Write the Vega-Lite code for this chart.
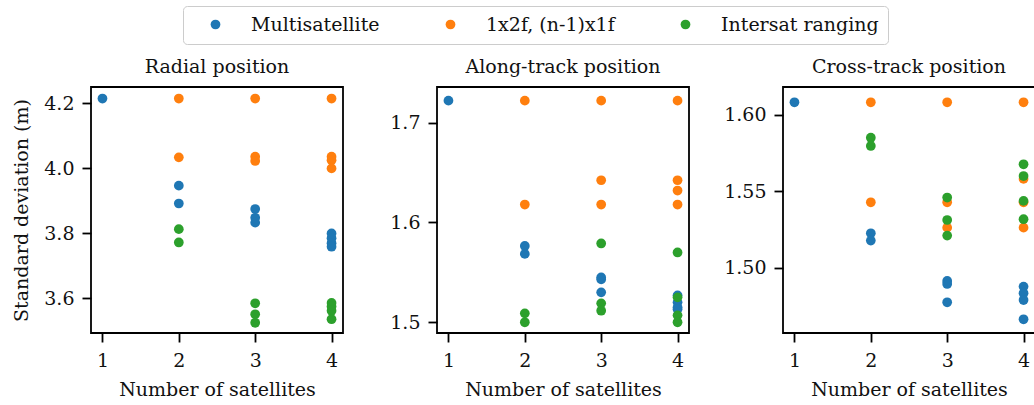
{
  "$schema": "https://vega.github.io/schema/vega-lite/v6.json",
  "autosize": {"type": "none"},
  "padding": {"left": 91, "top": 87, "right": 943, "bottom": 318},
  "background": "white",
  "datasets": {
    "pts": [
      {"panel": "R", "n": 1, "sd": 4.215, "method": "Multisatellite"},
      {"panel": "R", "n": 2, "sd": 3.947, "method": "Multisatellite"},
      {"panel": "R", "n": 2, "sd": 3.892, "method": "Multisatellite"},
      {"panel": "R", "n": 3, "sd": 3.875, "method": "Multisatellite"},
      {"panel": "R", "n": 3, "sd": 3.848, "method": "Multisatellite"},
      {"panel": "R", "n": 3, "sd": 3.833, "method": "Multisatellite"},
      {"panel": "R", "n": 4, "sd": 3.800, "method": "Multisatellite"},
      {"panel": "R", "n": 4, "sd": 3.785, "method": "Multisatellite"},
      {"panel": "R", "n": 4, "sd": 3.770, "method": "Multisatellite"},
      {"panel": "R", "n": 4, "sd": 3.759, "method": "Multisatellite"},
      {"panel": "A", "n": 1, "sd": 1.722, "method": "Multisatellite"},
      {"panel": "A", "n": 2, "sd": 1.5765, "method": "Multisatellite"},
      {"panel": "A", "n": 2, "sd": 1.5685, "method": "Multisatellite"},
      {"panel": "A", "n": 3, "sd": 1.545, "method": "Multisatellite"},
      {"panel": "A", "n": 3, "sd": 1.543, "method": "Multisatellite"},
      {"panel": "A", "n": 3, "sd": 1.530, "method": "Multisatellite"},
      {"panel": "A", "n": 4, "sd": 1.527, "method": "Multisatellite"},
      {"panel": "A", "n": 4, "sd": 1.520, "method": "Multisatellite"},
      {"panel": "A", "n": 4, "sd": 1.515, "method": "Multisatellite"},
      {"panel": "A", "n": 4, "sd": 1.513, "method": "Multisatellite"},
      {"panel": "C", "n": 1, "sd": 1.6083, "method": "Multisatellite"},
      {"panel": "C", "n": 2, "sd": 1.5225, "method": "Multisatellite"},
      {"panel": "C", "n": 2, "sd": 1.5177, "method": "Multisatellite"},
      {"panel": "C", "n": 3, "sd": 1.4913, "method": "Multisatellite"},
      {"panel": "C", "n": 3, "sd": 1.4893, "method": "Multisatellite"},
      {"panel": "C", "n": 3, "sd": 1.4773, "method": "Multisatellite"},
      {"panel": "C", "n": 4, "sd": 1.4876, "method": "Multisatellite"},
      {"panel": "C", "n": 4, "sd": 1.4832, "method": "Multisatellite"},
      {"panel": "C", "n": 4, "sd": 1.4788, "method": "Multisatellite"},
      {"panel": "C", "n": 4, "sd": 1.4662, "method": "Multisatellite"},
      {"panel": "R", "n": 2, "sd": 4.215, "method": "1x2f, (n-1)x1f"},
      {"panel": "R", "n": 2, "sd": 4.034, "method": "1x2f, (n-1)x1f"},
      {"panel": "R", "n": 3, "sd": 4.215, "method": "1x2f, (n-1)x1f"},
      {"panel": "R", "n": 3, "sd": 4.036, "method": "1x2f, (n-1)x1f"},
      {"panel": "R", "n": 3, "sd": 4.023, "method": "1x2f, (n-1)x1f"},
      {"panel": "R", "n": 4, "sd": 4.215, "method": "1x2f, (n-1)x1f"},
      {"panel": "R", "n": 4, "sd": 4.036, "method": "1x2f, (n-1)x1f"},
      {"panel": "R", "n": 4, "sd": 4.025, "method": "1x2f, (n-1)x1f"},
      {"panel": "R", "n": 4, "sd": 4.000, "method": "1x2f, (n-1)x1f"},
      {"panel": "A", "n": 2, "sd": 1.722, "method": "1x2f, (n-1)x1f"},
      {"panel": "A", "n": 2, "sd": 1.618, "method": "1x2f, (n-1)x1f"},
      {"panel": "A", "n": 3, "sd": 1.722, "method": "1x2f, (n-1)x1f"},
      {"panel": "A", "n": 3, "sd": 1.6423, "method": "1x2f, (n-1)x1f"},
      {"panel": "A", "n": 3, "sd": 1.618, "method": "1x2f, (n-1)x1f"},
      {"panel": "A", "n": 4, "sd": 1.722, "method": "1x2f, (n-1)x1f"},
      {"panel": "A", "n": 4, "sd": 1.6423, "method": "1x2f, (n-1)x1f"},
      {"panel": "A", "n": 4, "sd": 1.632, "method": "1x2f, (n-1)x1f"},
      {"panel": "A", "n": 4, "sd": 1.618, "method": "1x2f, (n-1)x1f"},
      {"panel": "C", "n": 2, "sd": 1.6083, "method": "1x2f, (n-1)x1f"},
      {"panel": "C", "n": 2, "sd": 1.5428, "method": "1x2f, (n-1)x1f"},
      {"panel": "C", "n": 3, "sd": 1.6083, "method": "1x2f, (n-1)x1f"},
      {"panel": "C", "n": 3, "sd": 1.5428, "method": "1x2f, (n-1)x1f"},
      {"panel": "C", "n": 3, "sd": 1.5262, "method": "1x2f, (n-1)x1f"},
      {"panel": "C", "n": 4, "sd": 1.6083, "method": "1x2f, (n-1)x1f"},
      {"panel": "C", "n": 4, "sd": 1.5581, "method": "1x2f, (n-1)x1f"},
      {"panel": "C", "n": 4, "sd": 1.5428, "method": "1x2f, (n-1)x1f"},
      {"panel": "C", "n": 4, "sd": 1.5262, "method": "1x2f, (n-1)x1f"},
      {"panel": "R", "n": 2, "sd": 3.813, "method": "Intersat ranging"},
      {"panel": "R", "n": 2, "sd": 3.772, "method": "Intersat ranging"},
      {"panel": "R", "n": 3, "sd": 3.585, "method": "Intersat ranging"},
      {"panel": "R", "n": 3, "sd": 3.551, "method": "Intersat ranging"},
      {"panel": "R", "n": 3, "sd": 3.525, "method": "Intersat ranging"},
      {"panel": "R", "n": 4, "sd": 3.586, "method": "Intersat ranging"},
      {"panel": "R", "n": 4, "sd": 3.575, "method": "Intersat ranging"},
      {"panel": "R", "n": 4, "sd": 3.562, "method": "Intersat ranging"},
      {"panel": "R", "n": 4, "sd": 3.536, "method": "Intersat ranging"},
      {"panel": "A", "n": 2, "sd": 1.509, "method": "Intersat ranging"},
      {"panel": "A", "n": 2, "sd": 1.500, "method": "Intersat ranging"},
      {"panel": "A", "n": 3, "sd": 1.579, "method": "Intersat ranging"},
      {"panel": "A", "n": 3, "sd": 1.519, "method": "Intersat ranging"},
      {"panel": "A", "n": 3, "sd": 1.5116, "method": "Intersat ranging"},
      {"panel": "A", "n": 4, "sd": 1.570, "method": "Intersat ranging"},
      {"panel": "A", "n": 4, "sd": 1.525, "method": "Intersat ranging"},
      {"panel": "A", "n": 4, "sd": 1.507, "method": "Intersat ranging"},
      {"panel": "A", "n": 4, "sd": 1.500, "method": "Intersat ranging"},
      {"panel": "C", "n": 2, "sd": 1.5851, "method": "Intersat ranging"},
      {"panel": "C", "n": 2, "sd": 1.5797, "method": "Intersat ranging"},
      {"panel": "C", "n": 3, "sd": 1.5459, "method": "Intersat ranging"},
      {"panel": "C", "n": 3, "sd": 1.5312, "method": "Intersat ranging"},
      {"panel": "C", "n": 3, "sd": 1.5210, "method": "Intersat ranging"},
      {"panel": "C", "n": 4, "sd": 1.5677, "method": "Intersat ranging"},
      {"panel": "C", "n": 4, "sd": 1.5600, "method": "Intersat ranging"},
      {"panel": "C", "n": 4, "sd": 1.5437, "method": "Intersat ranging"},
      {"panel": "C", "n": 4, "sd": 1.5317, "method": "Intersat ranging"}
    ]
  },
  "data": {"name": "pts"},
  "spacing": 94,
  "bounds": "flush",
  "hconcat": [
    {
      "width": 252,
      "height": 246,
      "title": {"text": "Radial position"},
      "transform": [{"filter": "datum.panel == 'R'"}],
      "mark": {"type": "point", "filled": true, "opacity": 1, "size": 95},
      "encoding": {
        "x": {"field": "n", "type": "quantitative", "title": "Number of satellites",
              "scale": {"domain": [0.85, 4.15], "nice": false, "zero": false},
              "axis": {"values": [1, 2, 3, 4], "format": "d"}},
        "y": {"field": "sd", "type": "quantitative", "title": "Standard deviation (m)",
              "scale": {"domain": [3.4935, 4.2505], "nice": false, "zero": false},
              "axis": {"values": [3.6, 3.8, 4.0, 4.2], "format": ".1f"}},
        "color": {"field": "method", "type": "nominal",
                  "scale": {"domain": ["Multisatellite", "1x2f, (n-1)x1f", "Intersat ranging"], "range": ["#1f77b4", "#ff7f0e", "#2ca02c"]},
                  "legend": {"title": null, "orient": "none", "direction": "horizontal", "legendX": 92, "legendY": -81}}
      }
    },
    {
      "width": 252,
      "height": 246,
      "title": {"text": "Along-track position"},
      "transform": [{"filter": "datum.panel == 'A'"}],
      "mark": {"type": "point", "filled": true, "opacity": 1, "size": 95},
      "encoding": {
        "x": {"field": "n", "type": "quantitative", "title": "Number of satellites",
              "scale": {"domain": [0.85, 4.15], "nice": false, "zero": false},
              "axis": {"values": [1, 2, 3, 4], "format": "d"}},
        "y": {"field": "sd", "type": "quantitative", "title": null,
              "scale": {"domain": [1.4893, 1.7357], "nice": false, "zero": false},
              "axis": {"values": [1.5, 1.6, 1.7], "format": ".1f"}},
        "color": {"field": "method", "type": "nominal",
                  "scale": {"domain": ["Multisatellite", "1x2f, (n-1)x1f", "Intersat ranging"], "range": ["#1f77b4", "#ff7f0e", "#2ca02c"]},
                  "legend": {"title": null, "orient": "none", "direction": "horizontal", "legendX": 92, "legendY": -81}}
      }
    },
    {
      "width": 252,
      "height": 246,
      "title": {"text": "Cross-track position"},
      "transform": [{"filter": "datum.panel == 'C'"}],
      "mark": {"type": "point", "filled": true, "opacity": 1, "size": 95},
      "encoding": {
        "x": {"field": "n", "type": "quantitative", "title": "Number of satellites",
              "scale": {"domain": [0.85, 4.15], "nice": false, "zero": false},
              "axis": {"values": [1, 2, 3, 4], "format": "d"}},
        "y": {"field": "sd", "type": "quantitative", "title": null,
              "scale": {"domain": [1.4572, 1.6183], "nice": false, "zero": false},
              "axis": {"values": [1.50, 1.55, 1.60], "format": ".2f"}},
        "color": {"field": "method", "type": "nominal",
                  "scale": {"domain": ["Multisatellite", "1x2f, (n-1)x1f", "Intersat ranging"], "range": ["#1f77b4", "#ff7f0e", "#2ca02c"]},
                  "legend": {"title": null, "orient": "none", "direction": "horizontal", "legendX": 92, "legendY": -81}}
      }
    }
  ],
  "config": {
    "font": "DejaVu Serif",
    "view": {"stroke": "black", "strokeWidth": 1.8},
    "axis": {
      "domain": false, "grid": false,
      "tickColor": "black", "tickSize": 9, "tickWidth": 1.8,
      "labelFont": "DejaVu Serif", "labelFontSize": 19, "labelColor": "#111111",
      "titleFont": "DejaVu Serif", "titleFontSize": 19, "titleFontWeight": "normal", "titleColor": "#111111"
    },
    "axisX": {"labelPadding": 9, "titlePadding": 10},
    "axisY": {"labelPadding": 8, "titlePadding": 12},
    "title": {"font": "DejaVu Serif", "fontSize": 19, "fontWeight": "normal", "color": "#111111", "anchor": "middle", "baseline": "bottom", "offset": 10},
    "legend": {
      "labelFont": "DejaVu Serif", "labelFontSize": 19, "labelColor": "#111111",
      "symbolType": "circle", "symbolSize": 95, "symbolStrokeWidth": 0,
      "symbolOffset": 14, "labelOffset": 26, "columnPadding": 47, "gridAlign": "none",
      "padding": 9, "strokeColor": "#cccccc", "cornerRadius": 4, "fillColor": "white"
    }
  }
}
